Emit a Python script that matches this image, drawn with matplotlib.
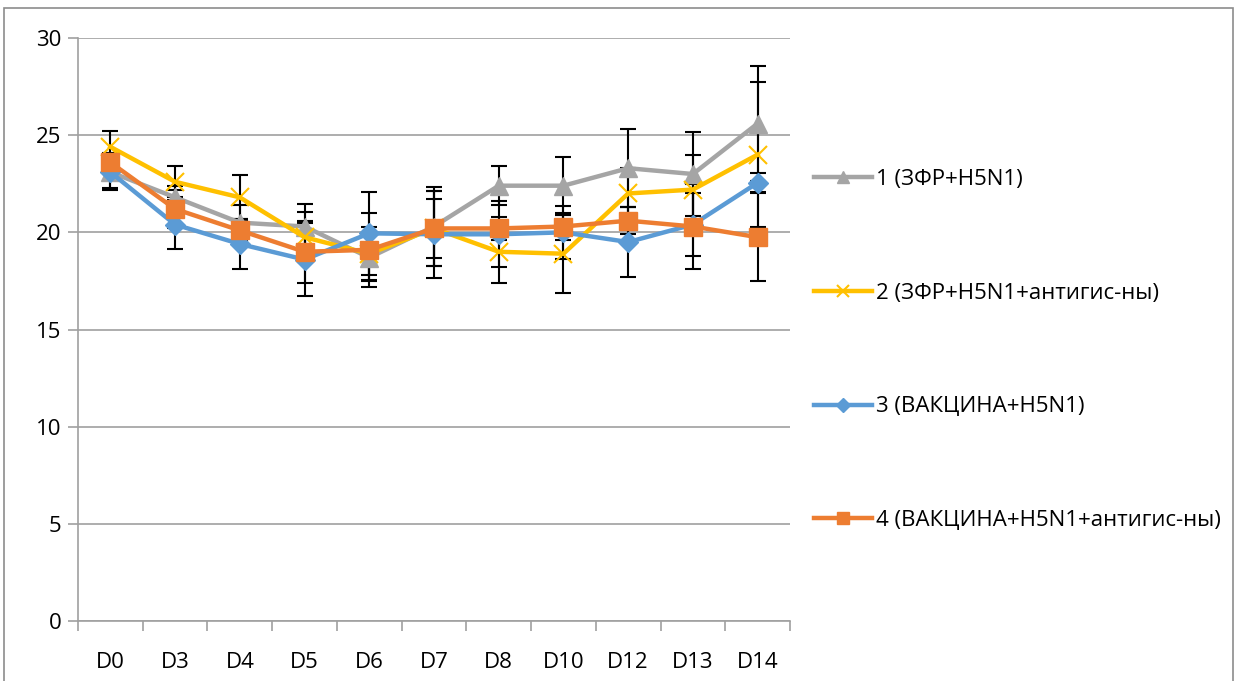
import matplotlib
matplotlib.use("Agg")
import matplotlib.pyplot as plt
from matplotlib.patches import Rectangle
import numpy as np

days = ["D0", "D3", "D4", "D5", "D6", "D7", "D8", "D10", "D12", "D13", "D14"]

labels = [
    "1 (ЗФР+H5N1)",
    "2 (ЗФР+H5N1+антигис-ны)",
    "3 (ВАКЦИНА+H5N1)",
    "4 (ВАКЦИНА+H5N1+антигис-ны)",
]

g1_mean = [23.1, 21.8, 20.5, 20.3, 18.7, 20.3, 22.4, 22.4, 23.3, 23.0, 25.6]
g1_err = [0.8, 0.6, 0.9, 1.15, 1.2, 2.05, 1.0, 1.5, 2.0, 2.15, 2.95]

g2_mean = [24.4, 22.6, 21.8, 19.75, 18.9, 20.2, 19.0, 18.9, 22.0, 22.2, 24.0]
g2_err = [0.8, 0.8, 1.15, 1.3, 1.35, 1.5, 1.6, 2.0, 1.3, 1.8, 3.75]

g3_mean = [23.1, 20.4, 19.4, 18.6, 19.95, 19.9, 19.9, 20.0, 19.5, 20.4, 22.55]
g3_err = [0.9, 1.25, 1.3, 1.9, 2.15, 2.25, 1.7, 1.35, 1.8, 1.6, 0.5]

g4_mean = [23.6, 21.2, 20.1, 19.0, 19.1, 20.2, 20.2, 20.3, 20.6, 20.3, 19.75]
g4_err = [0.5, 1.0, 0.6, 1.6, 1.9, 1.95, 0.6, 0.7, 0.7, 2.2, 2.25]

colors = ["#A5A5A5", "#FFC000", "#5B9BD5", "#ED7D31"]
markers = ["^", "x", "D", "s"]
msizes = [13, 13, 10, 12.5]

plt.rcParams["font.family"] = ["Open Sans", "DejaVu Sans"]

fig = plt.figure(figsize=(12.37, 6.81), dpi=100)
ax = fig.add_axes([78 / 1237, 1 - 621 / 681, (790 - 78) / 1237, (621 - 38) / 681])

x = np.arange(len(days))
series = [(g1_mean, g1_err), (g2_mean, g2_err), (g3_mean, g3_err), (g4_mean, g4_err)]

# error bars sit under the coloured lines
for mean, err in series:
    ax.errorbar(x, mean, yerr=err, fmt="none", ecolor="black", elinewidth=1.5,
                capsize=6, capthick=1.5, zorder=2)
for (mean, err), c, m, ms, lab in zip(series, colors, markers, msizes, labels):
    kw = dict(color=c, linewidth=3.2, marker=m, markersize=ms, label=lab, zorder=3)
    if m == "x":
        kw.update(markeredgewidth=1.5)
    ax.plot(x, mean, **kw)

ax.set_ylim(0, 30)
ax.set_xlim(-0.5, len(days) - 0.5)
ax.set_yticks(np.arange(0, 31, 5))
ax.yaxis.grid(True, color="#A0A0A0", linewidth=1.2)
ax.set_axisbelow(True)

ax.set_xticks(x)
ax.set_xticklabels(days)
ax.set_xticks(np.arange(-0.5, len(days), 1), minor=True)
ax.tick_params(axis="x", which="major", length=0, pad=22, labelsize=16)
ax.tick_params(axis="x", which="minor", length=7, color="#A0A0A0", width=1.2)
ax.tick_params(axis="y", length=7, color="#A0A0A0", width=1.2, pad=5, labelsize=16)

for side in ["top", "right"]:
    ax.spines[side].set_visible(False)
for side in ["left", "bottom"]:
    ax.spines[side].set_color("#A0A0A0")
    ax.spines[side].set_linewidth(1.2)

fig.patches.append(Rectangle((4 / 1237, -0.05), (1233 - 4) / 1237, 1.05 - 8 / 681,
                             transform=fig.transFigure, fill=False,
                             edgecolor="#8C8C8C", linewidth=1.2))

leg = fig.legend(loc="upper left", bbox_to_anchor=(803 / 1237, 1 - 158 / 681),
                 frameon=False, fontsize=16, labelspacing=4.17, handlelength=2.6,
                 handletextpad=0.2, borderpad=0, markerscale=0.7)

fig.savefig("out.png", dpi=100)
